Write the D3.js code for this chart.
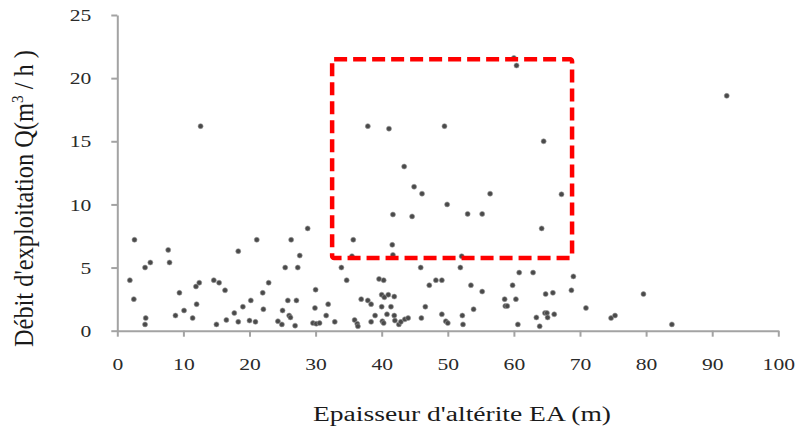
<!DOCTYPE html>
<html><head><meta charset="utf-8">
<script src="https://cdn.jsdelivr.net/npm/d3@7"></script>
<style>body{margin:0;background:#fff} text{font-family:"Liberation Serif","Times New Roman",Times,serif}</style>
</head><body><svg id="c" width="800" height="431"></svg>
<script>
const xTicks = [0,10,20,30,40,50,60,70,80,90,100];
const yTicks = [0,5,10,15,20,25];
const eaValues = [1.9,2.6,2.5,4.3,4.2,4.2,5.0,7.7,7.9,9.4,8.8,10.1,11.4,12.0,11.9,12.4,12.6,14.6,15.4,16.3,15.0,16.5,17.7,18.3,19.0,18.3,20.2,20.0,20.9,21.1,22.0,22.1,22.9,24.3,24.9,25.0,25.4,25.8,26.0,26.2,26.3,26.9,27.1,27.3,27.6,28.8,30.0,29.9,29.6,30.1,30.6,31.9,31.6,32.9,33.9,34.7,35.7,35.5,35.9,36.3,36.4,36.9,37.9,38.4,38.4,39.0,39.6,40.3,40.0,40.4,41.0,41.9,40.0,41.4,40.1,40.3,40.8,41.7,41.6,41.7,41.9,42.0,42.6,42.9,43.5,44.0,44.6,44.9,46.1,45.9,46.0,46.6,47.2,48.2,49.1,49.1,49.7,50.0,49.9,51.9,52.1,52.2,52.3,53.0,53.5,53.9,55.2,55.2,56.4,58.6,58.7,59.0,59.8,60.3,60.6,60.8,62.9,63.4,63.9,64.2,64.8,65.9,64.7,65.0,65.1,66.1,67.2,68.7,69.0,70.9,74.7,75.3,79.6,83.9,92.2,37.9,41.1,49.5,64.5,43.4,60.4,60.0];
const qValues = [4.0,7.2,2.5,1.0,0.5,5.0,5.4,6.4,5.4,3.0,1.2,1.6,1.0,2.1,3.5,3.8,16.2,4.0,3.8,3.2,0.5,0.85,1.4,6.3,1.9,0.7,2.4,0.8,0.7,7.2,3.0,1.7,3.8,0.75,0.5,1.6,5.0,2.4,1.2,1.05,7.2,0.4,2.4,5.0,5.95,8.1,3.25,1.8,0.6,0.55,0.6,2.1,1.2,0.7,5.0,4.0,7.2,5.9,0.85,0.55,0.35,2.5,2.4,2.1,0.7,1.2,4.1,4.0,2.85,2.65,2.85,2.7,1.9,1.9,0.75,0.6,1.3,9.2,6.8,6.0,1.2,0.8,0.5,0.7,0.9,1.0,9.05,11.4,10.85,5.0,1.0,1.9,3.6,4.0,4.0,1.3,0.75,0.6,10.0,5.0,5.9,1.2,0.5,9.25,3.6,1.7,9.25,3.1,10.85,2.5,1.95,1.95,3.6,2.5,0.5,4.6,4.6,1.05,0.35,8.1,2.9,3.0,1.4,1.4,1.05,1.3,10.8,3.2,4.3,1.8,1.0,1.2,2.9,0.5,18.6,16.2,16.0,16.2,15.0,13.0,21.0,21.6];
const zoneEA = [32.5, 68.8];
const zoneQ = [5.75, 21.5];
const xTitle = "Epaisseur d'altérite EA (m)";

const svg = d3.select("#c");
const m = {l:117.3, r:21.7, t:15, b:100.3};
const W = 800, H = 431;
const x = d3.scaleLinear().domain([0,100]).range([m.l, W-m.r]);
const y = d3.scaleLinear().domain([0,25]).range([H-m.b, m.t]);
const axisColor = "#a3a3a3";
const stretch = 1.35;
const FONT = "'Liberation Serif','Times New Roman',Times,serif";

const gy = svg.append("g").attr("transform",`translate(${m.l},0)`)
  .call(d3.axisLeft(y).tickValues(yTicks).tickSize(6).tickSizeOuter(0).tickPadding(20));
const gx = svg.append("g").attr("transform",`translate(0,${H-m.b})`)
  .call(d3.axisBottom(x).tickValues(xTicks).tickSize(6).tickSizeOuter(0));
[gx,gy].forEach(g=>{
  g.attr("font-family",FONT);
  g.select(".domain").attr("stroke",axisColor).attr("stroke-width",2);
  g.selectAll(".tick line").attr("stroke",axisColor).attr("stroke-width",2);
  g.selectAll(".tick text").attr("font-family",FONT).attr("font-size",16).attr("fill","#2a2a2a");
});
gx.selectAll(".tick text").attr("y",34).attr("dy","0.35em");
gy.selectAll(".tick text").attr("dy","0.35em");
svg.selectAll(".tick text").each(function(){
  const L = this.getComputedTextLength();
  d3.select(this).attr("textLength", L*stretch).attr("lengthAdjust","spacingAndGlyphs");
});

svg.append("g").selectAll("circle").data(eaValues.map((v,i)=>[v,qValues[i]]))
  .join("circle")
  .attr("cx",d=>x(d[0])).attr("cy",d=>y(d[1])).attr("r",2.5)
  .attr("fill","#4a4a4a").attr("stroke","#9a9a9a").attr("stroke-width",0.6);

svg.append("rect")
  .attr("x",x(zoneEA[0])).attr("y",y(zoneQ[1]))
  .attr("width",x(zoneEA[1])-x(zoneEA[0])).attr("height",y(zoneQ[0])-y(zoneQ[1]))
  .attr("fill","none").attr("stroke","#ff0000").attr("stroke-width",4.5)
  .attr("stroke-dasharray","13,6").attr("stroke-linejoin","round").attr("rx",2);

svg.append("text").attr("x",462).attr("y",421).attr("text-anchor","middle")
  .attr("font-family",FONT).attr("font-size",20).attr("fill","#1a1a1a")
  .attr("textLength",298).attr("lengthAdjust","spacingAndGlyphs").text(xTitle);

const yt = svg.append("text").attr("transform","translate(33,198.5) rotate(-90)")
  .attr("text-anchor","middle").attr("font-family",FONT).attr("font-size",27)
  .attr("fill","#1a1a1a").attr("textLength",297).attr("lengthAdjust","spacingAndGlyphs");
yt.append("tspan").text("Débit d'exploitation  Q(m");
yt.append("tspan").attr("font-size",17).attr("dy",-10).text("3");
yt.append("tspan").attr("dy",10).text(" / h )");
</script></body></html>
